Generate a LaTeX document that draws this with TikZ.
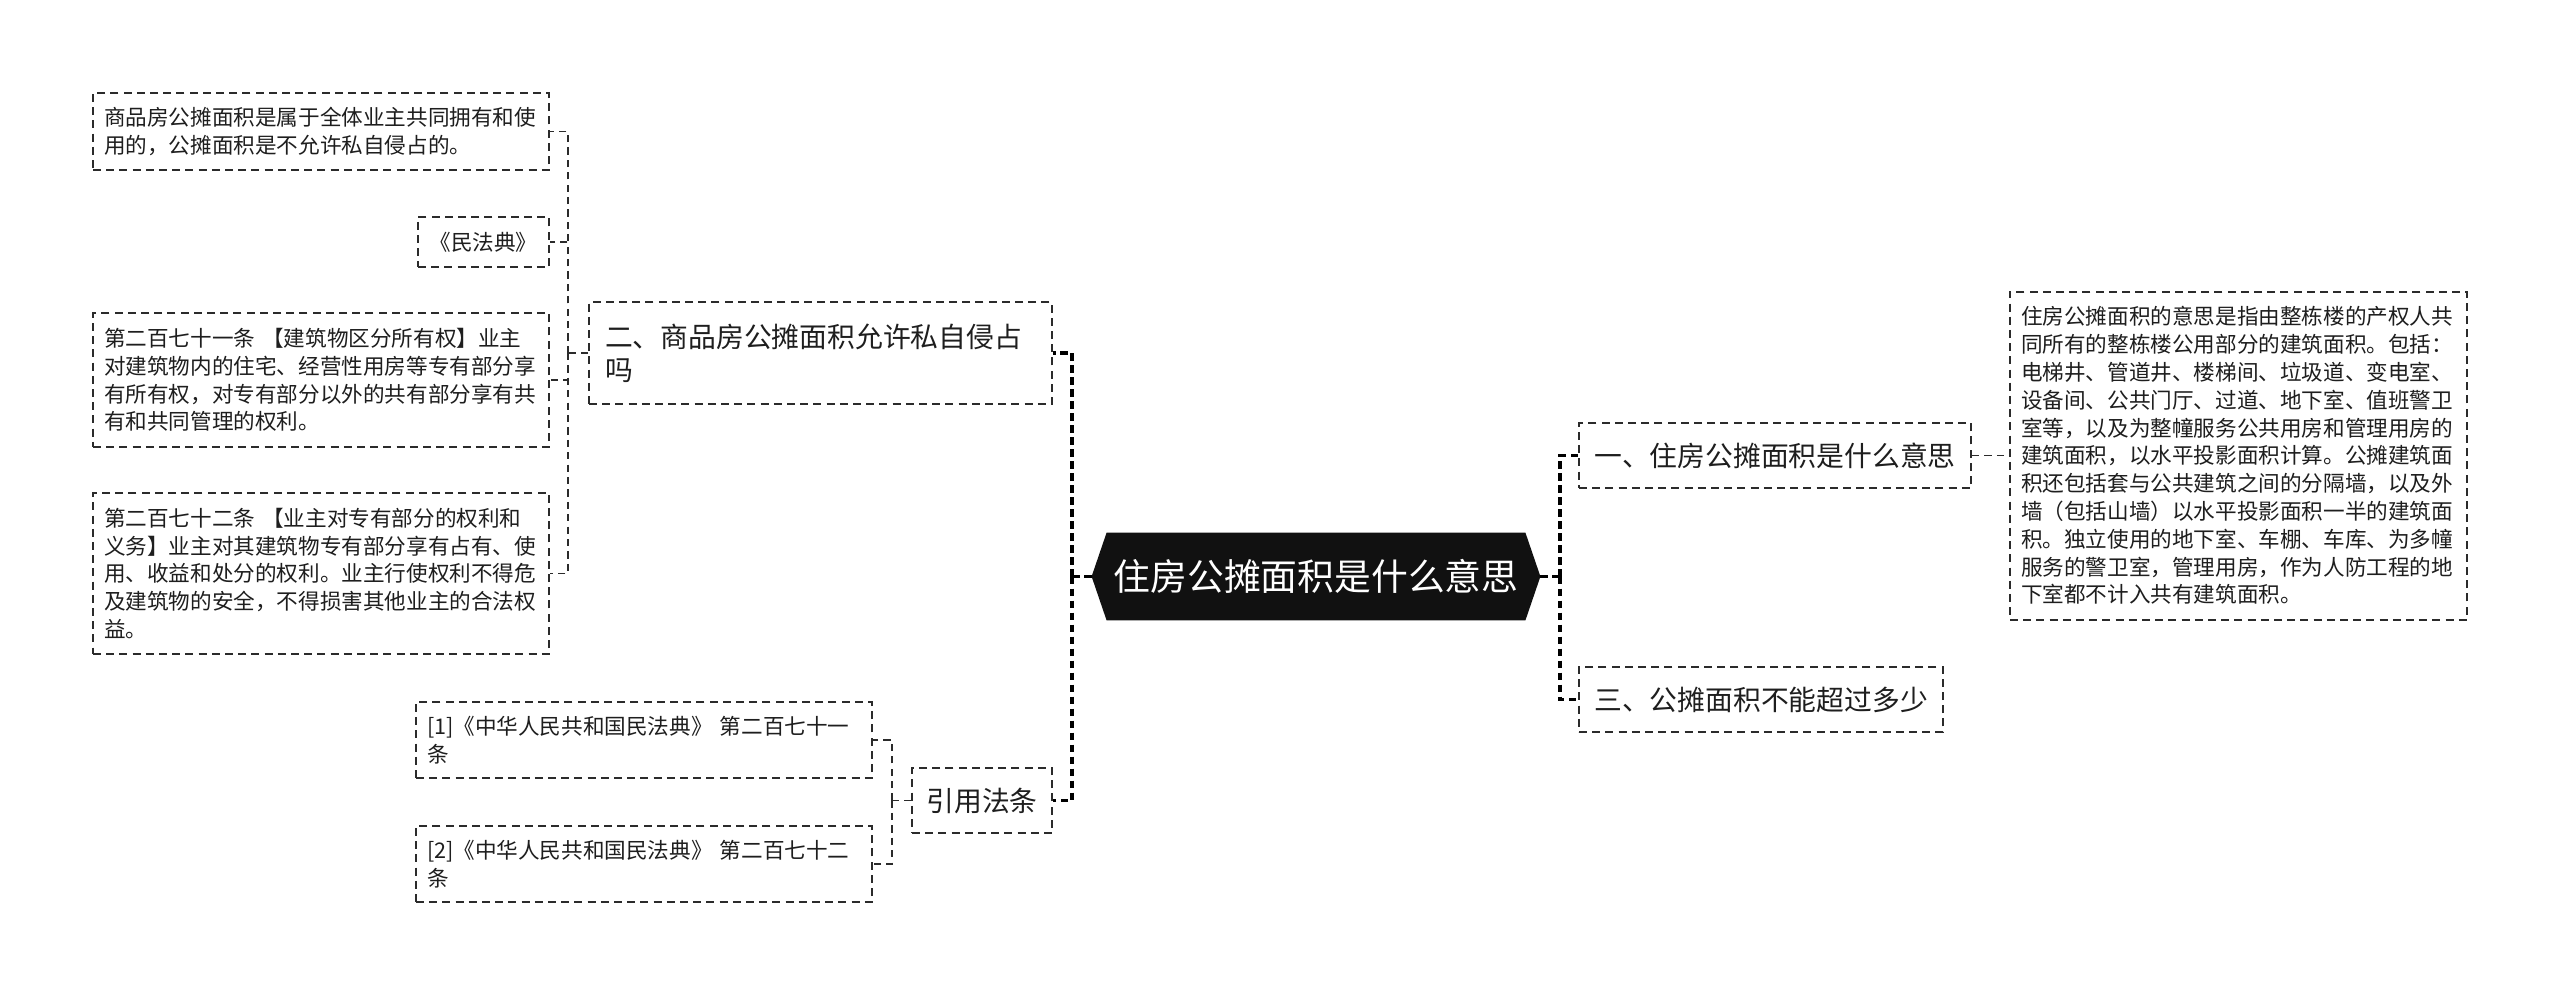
\documentclass[tikz,border=0pt]{standalone}
\usepackage{fontspec}
\setmainfont{Noto Sans CJK SC}
\usetikzlibrary{backgrounds}
\setlength{\parindent}{0pt}
\definecolor{linec}{HTML}{2B2B2B}
\definecolor{textc}{HTML}{1E1E1E}
\definecolor{hexc}{HTML}{111111}
\tikzset{
  boxbase/.style={draw=linec, line width=1pt, dash pattern=on 4pt off 2.6pt, text=textc, inner ysep=0pt, anchor=center},
  leaf/.style={boxbase, font=\fontsize{10.8pt}{13.9pt}\selectfont, align=left, inner xsep=5.5pt},
  leafc/.style={boxbase, font=\fontsize{10.8pt}{13.9pt}\selectfont, align=center, inner xsep=0pt},
  lvlone/.style={boxbase, font=\fontsize{13.9pt}{16.5pt}\selectfont, align=left, inner xsep=8pt},
  lvlonec/.style={boxbase, font=\fontsize{13.9pt}{16.5pt}\selectfont, align=center, inner xsep=0pt, minimum height=32.5pt},
  centernode/.style={draw=none, text=white, font=\fontsize{18.4pt}{22pt}\selectfont, minimum width=224pt, minimum height=43.5pt, inner sep=0pt, anchor=center},
  mainconn/.style={draw=black, line width=1.7pt, dash pattern=on 3.6pt off 2.4pt},
  leafconn/.style={draw=linec, line width=0.9pt, dash pattern=on 3.6pt off 2.6pt},
}
\begin{document}
\begin{tikzpicture}[x=0.5pt,y=-0.5pt]
\useasboundingbox (0,0) rectangle (2560,996);

% center
\node[centernode] (center) at (1316,576.5) {住房公摊面积是什么意思};
\begin{scope}[on background layer]
  \fill[white] (0,0) rectangle (2560,996);
  \fill[hexc] (center.west) -- ([xshift=7.5pt]center.north west) -- ([xshift=-7.5pt]center.north east) -- (center.east) -- ([xshift=-7.5pt]center.south east) -- ([xshift=7.5pt]center.south west) -- cycle;
\end{scope}

% left level one
\node[lvlone, text width=215.5pt, minimum height=51pt] (b2) at (820.5,353) {二、商品房公摊面积允许私自侵占\\吗};
\node[lvlonec, minimum width=70pt] (cite) at (982,800.5) {引用法条};

% leaves of b2
\node[leaf, text width=217pt, minimum height=38.5pt] (lA) at (321,131.5) {商品房公摊面积是属于全体业主共同拥有和使\\用的，公摊面积是不允许私自侵占的。};
\node[leafc, minimum width=65.5pt, minimum height=25pt] (lB) at (483.5,242) {《民法典》};
\node[leaf, text width=217pt, minimum height=67pt] (lC) at (321,380) {第二百七十一条~【建筑物区分所有权】业主\\对建筑物内的住宅、经营性用房等专有部分享\\有所有权，对专有部分以外的共有部分享有共\\有和共同管理的权利。};
\node[leaf, text width=217pt, minimum height=80.5pt] (lD) at (321,573.5) {第二百七十二条~【业主对专有部分的权利和\\义务】业主对其建筑物专有部分享有占有、使\\用、收益和处分的权利。业主行使权利不得危\\及建筑物的安全，不得损害其他业主的合法权\\益。};

% leaves of cite
\node[leaf, text width=217pt, minimum height=38pt] (c1) at (644,740) {[1]《中华人民共和国民法典》~第二百七十一\\条};
\node[leaf, text width=217pt, minimum height=38pt] (c2) at (644,864) {[2]《中华人民共和国民法典》~第二百七十二\\条};

% right level one
\node[lvlonec, minimum width=196pt] (b1) at (1775,455.5) {一、住房公摊面积是什么意思};
\node[lvlonec, minimum width=182pt] (b3) at (1761,699.5) {三、公摊面积不能超过多少};

% right leaf
\node[leaf, text width=217.5pt, minimum height=164pt] (rtext) at (2238.5,455.5) {住房公摊面积的意思是指由整栋楼的产权人共\\同所有的整栋楼公用部分的建筑面积。包括：\\电梯井、管道井、楼梯间、垃圾道、变电室、\\设备间、公共门厅、过道、地下室、值班警卫\\室等，以及为整幢服务公共用房和管理用房的\\建筑面积，以水平投影面积计算。公摊建筑面\\积还包括套与公共建筑之间的分隔墙，以及外\\墙（包括山墙）以水平投影面积一半的建筑面\\积。独立使用的地下室、车棚、车库、为多幢\\服务的警卫室，管理用房，作为人防工程的地\\下室都不计入共有建筑面积。};

% main connectors
\coordinate (tL) at (1072,576.5);
\coordinate (tR) at (1560,576.5);
\draw[mainconn] (center.west) -- (tL);
\draw[mainconn] (tL) |- (b2.east);
\draw[mainconn] (tL) |- (cite.east);
\draw[mainconn] (center.east) -- (tR);
\draw[mainconn] (tR) |- (b1.west);
\draw[mainconn] (tR) |- (b3.west);

% leaf connectors
\coordinate (tA) at (568,353);
\draw[leafconn] (b2.west) -- (tA);
\draw[leafconn] (tA) |- (lA.east);
\draw[leafconn] (tA) |- (lB.east);
\draw[leafconn] (tA) |- (lC.east);
\draw[leafconn] (tA) |- (lD.east);
\coordinate (tC) at (892,800.5);
\draw[leafconn] (cite.west) -- (tC);
\draw[leafconn] (tC) |- (c1.east);
\draw[leafconn] (tC) |- (c2.east);
\draw[leafconn] (b1.east) -- (rtext.west);
\end{tikzpicture}
\end{document}
